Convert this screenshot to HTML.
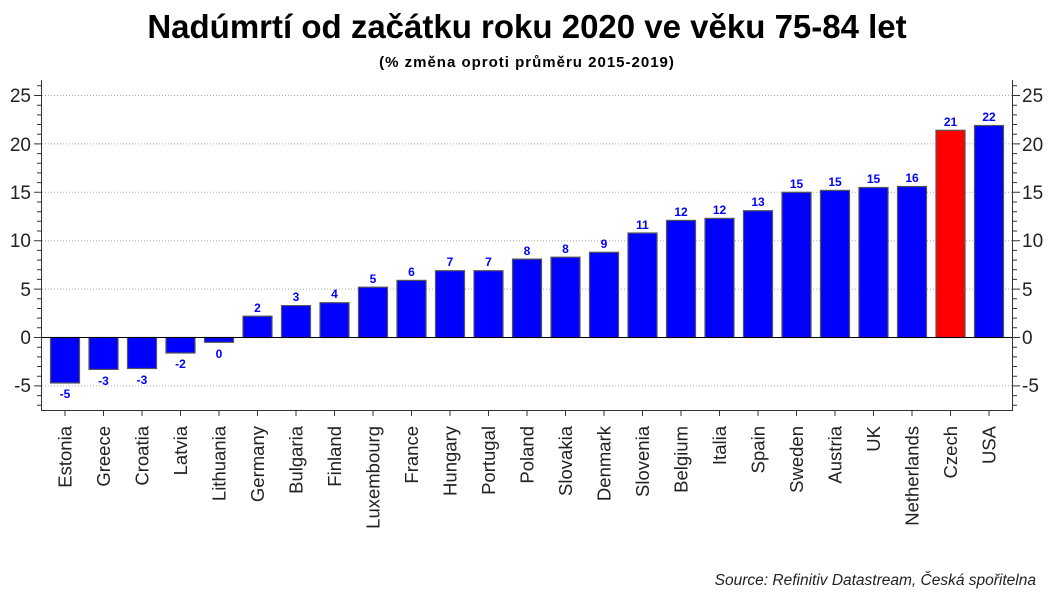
<!DOCTYPE html>
<html><head><meta charset="utf-8"><style>
html,body{margin:0;padding:0;background:#fff;}
svg{display:block;font-family:"Liberation Sans",Arial,sans-serif;}
.v{font-size:12px;font-weight:bold;fill:#0000ff;text-anchor:middle;}
.c{font-size:18.5px;fill:#222;text-anchor:end;}
.t{font-size:19px;fill:#222;}
</style></head><body>
<svg width="1053" height="592" viewBox="0 0 1053 592">
<text x="527" y="38" text-anchor="middle" font-size="33" font-weight="bold" fill="#000">Nadúmrtí od začátku roku 2020 ve věku 75-84 let</text>
<text x="527" y="67" text-anchor="middle" font-size="15" font-weight="bold" letter-spacing="1" fill="#000">(% změna oproti průměru 2015-2019)</text>
<g stroke="#aaa" stroke-dasharray="1 2" stroke-width="1">
<line x1="42" x2="1012" y1="95.5" y2="95.5"/><line x1="42" x2="1012" y1="143.9" y2="143.9"/>
<line x1="42" x2="1012" y1="192.3" y2="192.3"/><line x1="42" x2="1012" y1="240.7" y2="240.7"/>
<line x1="42" x2="1012" y1="289.1" y2="289.1"/><line x1="42" x2="1012" y1="385.9" y2="385.9"/>
</g>
<g stroke="#555" stroke-width="1.2">
<rect x="50.5" y="337.5" width="29" height="45.5" fill="#0000ff"/>
<rect x="89" y="337.5" width="29" height="31.9" fill="#0000ff"/>
<rect x="127.5" y="337.5" width="29" height="31" fill="#0000ff"/>
<rect x="166" y="337.5" width="29" height="15.5" fill="#0000ff"/>
<rect x="204.5" y="337.5" width="29" height="4.8" fill="#0000ff"/>
<rect x="243" y="316.2" width="29" height="21.3" fill="#0000ff"/>
<rect x="281.5" y="305.6" width="29" height="31.9" fill="#0000ff"/>
<rect x="320" y="302.7" width="29" height="34.8" fill="#0000ff"/>
<rect x="358.5" y="287.2" width="29" height="50.3" fill="#0000ff"/>
<rect x="397" y="280.4" width="29" height="57.1" fill="#0000ff"/>
<rect x="435.5" y="270.7" width="29" height="66.8" fill="#0000ff"/>
<rect x="474" y="270.7" width="29" height="66.8" fill="#0000ff"/>
<rect x="512.5" y="259.1" width="29" height="78.4" fill="#0000ff"/>
<rect x="551" y="257.2" width="29" height="80.3" fill="#0000ff"/>
<rect x="589.5" y="252.3" width="29" height="85.2" fill="#0000ff"/>
<rect x="628" y="233" width="29" height="104.5" fill="#0000ff"/>
<rect x="666.5" y="220.4" width="29" height="117.1" fill="#0000ff"/>
<rect x="705" y="218.4" width="29" height="119.1" fill="#0000ff"/>
<rect x="743.5" y="210.7" width="29" height="126.8" fill="#0000ff"/>
<rect x="782" y="192.3" width="29" height="145.2" fill="#0000ff"/>
<rect x="820.5" y="190.4" width="29" height="147.1" fill="#0000ff"/>
<rect x="859" y="187.5" width="29" height="150" fill="#0000ff"/>
<rect x="897.5" y="186.5" width="29" height="151" fill="#0000ff"/>
<rect x="936" y="130.3" width="29" height="207.2" fill="#ff0000"/>
<rect x="974.5" y="125.5" width="29" height="212" fill="#0000ff"/>
</g>
<line x1="41.5" x2="1012.5" y1="337.5" y2="337.5" stroke="#000" stroke-width="1"/>
<g class="v">
<text x="65" y="398">-5</text><text x="103.5" y="385">-3</text><text x="142" y="384">-3</text>
<text x="180.5" y="368">-2</text><text x="219" y="358">0</text>
<text x="257.5" y="312">2</text><text x="296" y="301">3</text><text x="334.5" y="298">4</text>
<text x="373" y="283">5</text><text x="411.5" y="276">6</text><text x="450" y="266">7</text>
<text x="488.5" y="266">7</text><text x="527" y="255">8</text><text x="565.5" y="253">8</text>
<text x="604" y="248">9</text><text x="642.5" y="229">11</text><text x="681" y="216">12</text>
<text x="719.5" y="214">12</text><text x="758" y="206">13</text><text x="796.5" y="188">15</text>
<text x="835" y="186">15</text><text x="873.5" y="183">15</text><text x="912" y="182">16</text>
<text x="950.5" y="126">21</text><text x="989" y="121">22</text>
</g>
<g stroke="#333" stroke-width="1" fill="none">
<line x1="41.5" y1="80" x2="41.5" y2="411"/>
<line x1="1012.5" y1="80" x2="1012.5" y2="411"/>
<line x1="41.5" y1="410.5" x2="1012.5" y2="410.5"/>
<path d="M37 85.8h4.5M37 105.2h4.5M37 114.9h4.5M37 124.5h4.5M37 134.2h4.5M37 153.6h4.5M37 163.3h4.5M37 172.9h4.5M37 182.6h4.5M37 202h4.5M37 211.7h4.5M37 221.3h4.5M37 231h4.5M37 250.4h4.5M37 260.1h4.5M37 269.7h4.5M37 279.4h4.5M37 298.8h4.5M37 308.5h4.5M37 318.1h4.5M37 327.8h4.5M37 347.2h4.5M37 356.9h4.5M37 366.5h4.5M37 376.2h4.5M37 395.6h4.5M37 405.3h4.5"/>
<path d="M1012.5 85.8h4.5M1012.5 105.2h4.5M1012.5 114.9h4.5M1012.5 124.5h4.5M1012.5 134.2h4.5M1012.5 153.6h4.5M1012.5 163.3h4.5M1012.5 172.9h4.5M1012.5 182.6h4.5M1012.5 202h4.5M1012.5 211.7h4.5M1012.5 221.3h4.5M1012.5 231h4.5M1012.5 250.4h4.5M1012.5 260.1h4.5M1012.5 269.7h4.5M1012.5 279.4h4.5M1012.5 298.8h4.5M1012.5 308.5h4.5M1012.5 318.1h4.5M1012.5 327.8h4.5M1012.5 347.2h4.5M1012.5 356.9h4.5M1012.5 366.5h4.5M1012.5 376.2h4.5M1012.5 395.6h4.5M1012.5 405.3h4.5"/>
<path d="M34 95.5H41.5M34 143.9H41.5M34 192.3H41.5M34 240.7H41.5M34 289.1H41.5M34 337.5H41.5M34 385.9H41.5"/>
<path d="M1012.5 95.5H1020M1012.5 143.9H1020M1012.5 192.3H1020M1012.5 240.7H1020M1012.5 289.1H1020M1012.5 337.5H1020M1012.5 385.9H1020"/>
<path d="M65 411v5M103.5 411v5M142 411v5M180.5 411v5M219 411v5M257.5 411v5M296 411v5M334.5 411v5M373 411v5M411.5 411v5M450 411v5M488.5 411v5M527 411v5M565.5 411v5M604 411v5M642.5 411v5M681 411v5M719.5 411v5M758 411v5M796.5 411v5M835 411v5M873.5 411v5M912 411v5M950.5 411v5M989 411v5"/>
</g>
<g class="t" text-anchor="end">
<text x="31" y="102">25</text><text x="31" y="151">20</text><text x="31" y="199">15</text>
<text x="31" y="247">10</text><text x="31" y="296">5</text><text x="31" y="344">0</text><text x="31" y="392">-5</text>
</g>
<g class="t">
<text x="1022" y="102">25</text><text x="1022" y="151">20</text><text x="1022" y="199">15</text>
<text x="1022" y="247">10</text><text x="1022" y="296">5</text><text x="1022" y="344">0</text><text x="1022" y="392">-5</text>
</g>
<g class="c">
<text transform="translate(71.5,426) rotate(-90)">Estonia</text>
<text transform="translate(110,426) rotate(-90)">Greece</text>
<text transform="translate(148.5,426) rotate(-90)">Croatia</text>
<text transform="translate(187,426) rotate(-90)">Latvia</text>
<text transform="translate(225.5,426) rotate(-90)">Lithuania</text>
<text transform="translate(264,426) rotate(-90)">Germany</text>
<text transform="translate(302.5,426) rotate(-90)">Bulgaria</text>
<text transform="translate(341,426) rotate(-90)">Finland</text>
<text transform="translate(379.5,426) rotate(-90)">Luxembourg</text>
<text transform="translate(418,426) rotate(-90)">France</text>
<text transform="translate(456.5,426) rotate(-90)">Hungary</text>
<text transform="translate(495,426) rotate(-90)">Portugal</text>
<text transform="translate(533.5,426) rotate(-90)">Poland</text>
<text transform="translate(572,426) rotate(-90)">Slovakia</text>
<text transform="translate(610.5,426) rotate(-90)">Denmark</text>
<text transform="translate(649,426) rotate(-90)">Slovenia</text>
<text transform="translate(687.5,426) rotate(-90)">Belgium</text>
<text transform="translate(726,426) rotate(-90)">Italia</text>
<text transform="translate(764.5,426) rotate(-90)">Spain</text>
<text transform="translate(803,426) rotate(-90)">Sweden</text>
<text transform="translate(841.5,426) rotate(-90)">Austria</text>
<text transform="translate(880,426) rotate(-90)">UK</text>
<text transform="translate(918.5,426) rotate(-90)">Netherlands</text>
<text transform="translate(957,426) rotate(-90)">Czech</text>
<text transform="translate(995.5,426) rotate(-90)">USA</text>
</g>
<text x="1036" y="585" text-anchor="end" font-size="15.5" font-style="italic" fill="#222">Source: Refinitiv Datastream, Česká spořitelna</text>
</svg>
</body></html>
